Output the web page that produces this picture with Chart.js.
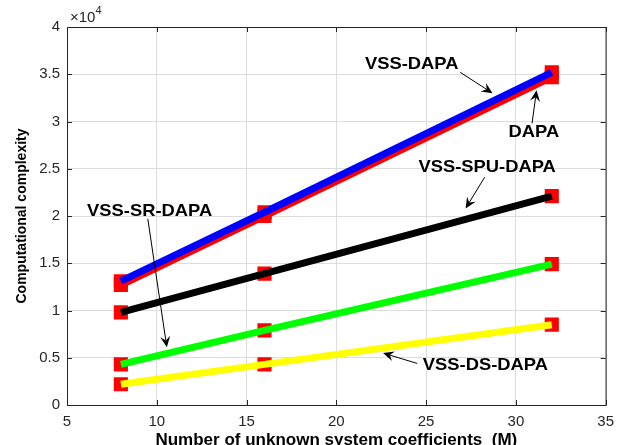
<!DOCTYPE html>
<html lang="en">
  <head>
    <meta charset="UTF-8" />
    <title>Computational complexity</title>
    <script src="https://cdn.jsdelivr.net/npm/chart.js"></script>
    <style>
      body {
        margin: 0;
        background: #ffffff;
      }
      #wrap {
        width: 622px;
        height: 445px;
      }
    </style>
  </head>
  <body>
    <div id="wrap"><canvas id="cc"></canvas></div>

    <script>
      // M values (x axis)
      const mValues = [8, 16, 32];

      // computational complexity of each algorithm
      const vssDapa = [13100, 20400, 35200];
      const dapa = [12700, 20000, 34700];
      const vssSpuDapa = [9800, 13900, 22100];
      const vssSrDapa = [4300, 7900, 14900];
      const vssDsDapa = [2200, 4300, 8500];

      const xTicks = [5, 10, 15, 20, 25, 30, 35];
      const yTicks = [0, 5000, 10000, 15000, 20000, 25000, 30000, 35000, 40000];

      // annotation text + arrow, in data units
      const notes = [
        { text: "VSS-DAPA", at: [24.2, 36100], from: [26.9, 35200], to: [28.7, 33000] },
        { text: "DAPA", at: [31.0, 28900], from: [30.9, 29800], to: [31.15, 33300] },
        { text: "VSS-SPU-DAPA", at: [28.4, 25100], from: [28.26, 24100], to: [27.2, 20800] },
        { text: "VSS-SR-DAPA", at: [9.6, 20500], from: [9.5, 19700], to: [10.56, 6100] },
        { text: "VSS-DS-DAPA", at: [28.3, 4200], from: [24.5, 4400], to: [22.6, 5500] },
      ];

      const pts = (ys) => mValues.map((m, i) => ({ x: m, y: ys[i] }));

      function lineSet(label, ys, color, order) {
        return {
          label: label,
          data: pts(ys),
          showLine: true,
          borderColor: color,
          backgroundColor: color,
          borderWidth: 7,
          pointRadius: 0,
          order: order,
        };
      }

      function markerSet(ys) {
        return {
          label: "",
          data: pts(ys),
          showLine: false,
          pointStyle: "rect",
          pointRadius: 10,
          pointBorderWidth: 0,
          backgroundColor: "#ff0000",
          borderColor: "#ff0000",
          order: 10,
        };
      }

      function arrow(ctx, x1, y1, x2, y2) {
        const a = Math.atan2(y2 - y1, x2 - x1);
        const len = 11, half = 5, notch = 7;
        ctx.beginPath();
        ctx.moveTo(x1, y1);
        ctx.lineTo(x2 - Math.cos(a) * notch, y2 - Math.sin(a) * notch);
        ctx.stroke();
        ctx.beginPath();
        ctx.moveTo(x2, y2);
        ctx.lineTo(x2 - Math.cos(a) * len + Math.sin(a) * half, y2 - Math.sin(a) * len - Math.cos(a) * half);
        ctx.lineTo(x2 - Math.cos(a) * notch, y2 - Math.sin(a) * notch);
        ctx.lineTo(x2 - Math.cos(a) * len - Math.sin(a) * half, y2 - Math.sin(a) * len + Math.cos(a) * half);
        ctx.closePath();
        ctx.fill();
      }

      const frame = {
        id: "frame",
        afterDraw(chart) {
          const { ctx, chartArea: a, scales } = chart;
          const sx = scales.x, sy = scales.y;
          ctx.save();
          ctx.strokeStyle = "#262626";
          ctx.lineWidth = 1;
          ctx.strokeRect(a.left + 0.5, a.top + 0.5, a.right - a.left, a.bottom - a.top);
          // inward ticks
          ctx.beginPath();
          xTicks.forEach((t) => {
            const px = Math.round(sx.getPixelForValue(t)) + 0.5;
            ctx.moveTo(px, a.bottom); ctx.lineTo(px, a.bottom - 5);
            ctx.moveTo(px, a.top); ctx.lineTo(px, a.top + 5);
          });
          yTicks.forEach((t) => {
            const py = Math.round(sy.getPixelForValue(t)) + 0.5;
            ctx.moveTo(a.left, py); ctx.lineTo(a.left + 5, py);
            ctx.moveTo(a.right, py); ctx.lineTo(a.right - 5, py);
          });
          ctx.stroke();

          // exponent label
          ctx.fillStyle = "#262626";
          ctx.textBaseline = "alphabetic";
          ctx.font = "15px Arial";
          ctx.fillText("\u00d710", a.left + 3, a.top - 5);
          const w = ctx.measureText("\u00d710").width;
          ctx.font = "11px Arial";
          ctx.fillText("4", a.left + 3 + w, a.top - 13);

          // annotations
          ctx.fillStyle = "#000000";
          ctx.strokeStyle = "#000000";
          ctx.lineWidth = 1;
          ctx.font = "bold 17px Arial";
          ctx.textAlign = "center";
          ctx.textBaseline = "middle";
          notes.forEach((n) => {
            ctx.save();
            ctx.translate(sx.getPixelForValue(n.at[0]), sy.getPixelForValue(n.at[1]));
            ctx.scale(1.08, 1);
            ctx.fillText(n.text, 0, 0);
            ctx.restore();
            arrow(ctx,
              sx.getPixelForValue(n.from[0]), sy.getPixelForValue(n.from[1]),
              sx.getPixelForValue(n.to[0]), sy.getPixelForValue(n.to[1]));
          });
          ctx.restore();
        },
      };

      new Chart(document.getElementById("cc").getContext("2d"), {
        type: "scatter",
        data: {
          datasets: [
            lineSet("VSS-DAPA", vssDapa, "#0000ff", 0),
            lineSet("DAPA", dapa, "#ff0000", 1),
            lineSet("VSS-SPU-DAPA", vssSpuDapa, "#000000", 2),
            lineSet("VSS-SR-DAPA", vssSrDapa, "#00ff00", 2),
            lineSet("VSS-DS-DAPA", vssDsDapa, "#ffff00", 2),
            markerSet(vssDapa),
            markerSet(dapa),
            markerSet(vssSpuDapa),
            markerSet(vssSrDapa),
            markerSet(vssDsDapa),
          ],
        },
        options: {
          responsive: true,
          maintainAspectRatio: false,
          animation: false,
          layout: { padding: { top: 27, right: 16, left: 0, bottom: 0 } },
          plugins: { legend: { display: false }, tooltip: { enabled: false } },
          scales: {
            x: {
              type: "linear",
              min: 5,
              max: 35,
              afterFit: (s) => { s.height = 40; },
              afterBuildTicks: (s) => { s.ticks = xTicks.map((v) => ({ value: v })); },
              grid: { color: "#dcdcdc", drawTicks: false },
              border: { display: false },
              ticks: { padding: 8, color: "#262626", font: { family: "Arial", size: 15 } },
              title: {
                display: true,
                text: "Number of unknown system coefficients  (M)",
                color: "#000000",
                font: { family: "Arial", size: 17, weight: "bold" },
                padding: { top: 0, bottom: -6 },
              },
            },
            y: {
              type: "linear",
              min: 0,
              max: 40000,
              afterFit: (s) => { s.width = 67; },
              afterBuildTicks: (s) => { s.ticks = yTicks.map((v) => ({ value: v })); },
              grid: { color: "#dcdcdc", drawTicks: false },
              border: { display: false },
              ticks: {
                padding: 7,
                color: "#262626",
                font: { family: "Arial", size: 15 },
                callback: (v) => String(v / 10000),
              },
              title: {
                display: true,
                text: "Computational complexity",
                color: "#000000",
                font: { family: "Arial", size: 14, weight: "bold" },
                padding: { top: 14, bottom: 0 },
              },
            },
          },
        },
        plugins: [frame],
      });
    </script>
  </body>
</html>
